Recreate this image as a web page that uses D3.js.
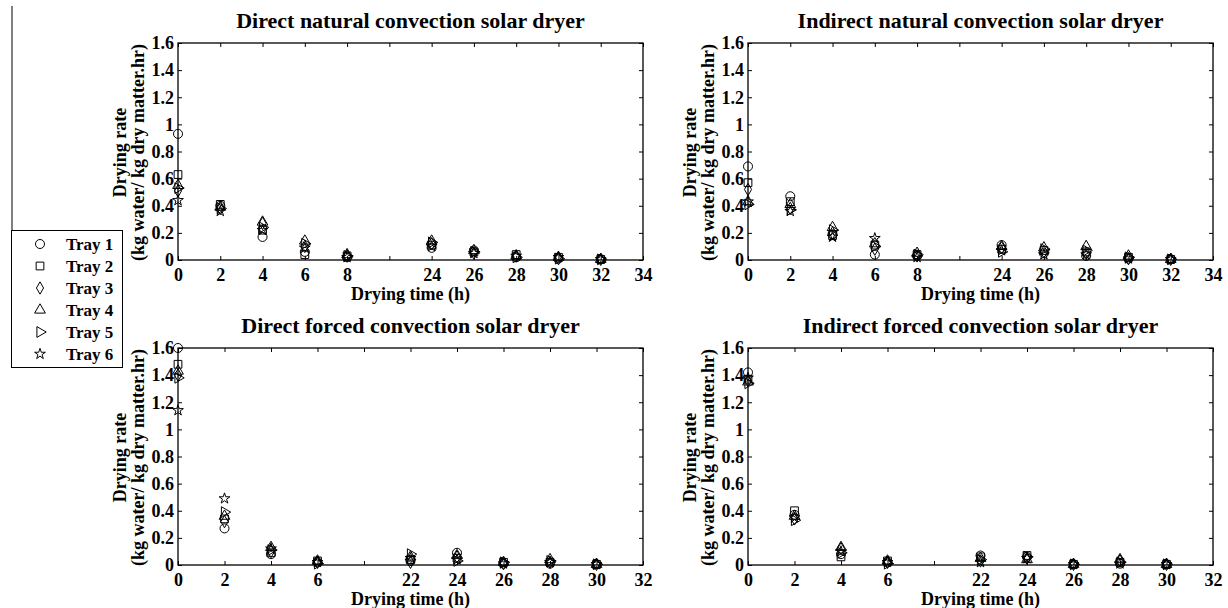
<!DOCTYPE html>
<html>
<head>
<meta charset="utf-8">
<script src="https://cdn.jsdelivr.net/npm/d3@7"></script>
<style>
  body { margin: 0; background: #fff; }
  svg text { font-family: "Liberation Serif", "Times New Roman", serif; font-weight: bold; fill: #000; }
</style>
</head>
<body>
<div id="chart"></div>
<script>
// tick categories (the blank one is the break between day 1 and day 2)
const naturalTicks = ["0", "2", "4", "6", "8", "", "24", "26", "28", "30", "32", "34"];
const forcedTicks = ["0", "2", "4", "6", "", "22", "24", "26", "28", "30", "32"];
const naturalTimes = ["0", "2", "4", "6", "8", "24", "26", "28", "30", "32"];
const forcedTimes = ["0", "2", "4", "6", "22", "24", "26", "28", "30"];
const yTicks = [0, 0.2, 0.4, 0.6, 0.8, 1, 1.2, 1.4, 1.6];
const trays = ["Tray 1", "Tray 2", "Tray 3", "Tray 4", "Tray 5", "Tray 6"];

// Direct natural convection solar dryer
const directNatural = [
  [0.93, 0.40, 0.17, 0.06, 0.02, 0.09, 0.07, 0.02, 0.01, 0.005],
  [0.63, 0.41, 0.22, 0.04, 0.03, 0.11, 0.06, 0.04, 0.02, 0.005],
  [0.51, 0.38, 0.27, 0.10, 0.03, 0.12, 0.05, 0.03, 0.01, 0.005],
  [0.55, 0.39, 0.28, 0.14, 0.04, 0.14, 0.07, 0.03, 0.02, 0.005],
  [0.53, 0.38, 0.24, 0.12, 0.03, 0.13, 0.06, 0.02, 0.01, 0.005],
  [0.44, 0.36, 0.22, 0.09, 0.02, 0.10, 0.05, 0.03, 0.02, 0.005]
];
// Indirect natural convection solar dryer
const indirectNatural = [
  [0.69, 0.47, 0.19, 0.04, 0.03, 0.11, 0.05, 0.03, 0.01, 0.005],
  [0.57, 0.43, 0.18, 0.11, 0.04, 0.08, 0.07, 0.06, 0.02, 0.005],
  [0.52, 0.38, 0.20, 0.08, 0.03, 0.09, 0.06, 0.05, 0.01, 0.005],
  [0.43, 0.41, 0.24, 0.12, 0.05, 0.10, 0.09, 0.10, 0.03, 0.005],
  [0.41, 0.37, 0.22, 0.10, 0.04, 0.06, 0.08, 0.07, 0.02, 0.005],
  [0.43, 0.36, 0.17, 0.16, 0.02, 0.07, 0.04, 0.04, 0.01, 0.005]
];
// Direct forced convection solar dryer
const directForced = [
  [1.60, 0.27, 0.08, 0.02, 0.03, 0.09, 0.01, 0.01, 0.005],
  [1.48, 0.34, 0.09, 0.03, 0.04, 0.05, 0.02, 0.02, 0.005],
  [1.40, 0.32, 0.10, 0.02, 0.02, 0.06, 0.01, 0.02, 0.005],
  [1.43, 0.36, 0.13, 0.03, 0.06, 0.07, 0.02, 0.04, 0.005],
  [1.38, 0.39, 0.11, 0.01, 0.08, 0.03, 0.02, 0.03, 0.005],
  [1.14, 0.49, 0.12, 0.02, 0.05, 0.04, 0.01, 0.02, 0.005]
];
// Indirect forced convection solar dryer
const indirectForced = [
  [1.42, 0.37, 0.08, 0.02, 0.07, 0.06, 0.005, 0.01, 0.005],
  [1.37, 0.40, 0.06, 0.03, 0.06, 0.07, 0.005, 0.02, 0.005],
  [1.36, 0.34, 0.12, 0.02, 0.03, 0.05, 0.005, 0.03, 0.005],
  [1.35, 0.36, 0.13, 0.03, 0.05, 0.04, 0.005, 0.04, 0.005],
  [1.34, 0.33, 0.09, 0.01, 0.04, 0.06, 0.005, 0.02, 0.005],
  [1.38, 0.35, 0.10, 0.02, 0.02, 0.05, 0.005, 0.01, 0.005]
];

const panels = [
  { title: "Direct natural convection solar dryer", ticks: naturalTicks, times: naturalTimes, values: directNatural, left: 178, top: 43 },
  { title: "Indirect natural convection solar dryer", ticks: naturalTicks, times: naturalTimes, values: indirectNatural, left: 748, top: 43 },
  { title: "Direct forced convection solar dryer", ticks: forcedTicks, times: forcedTimes, values: directForced, left: 178, top: 348 },
  { title: "Indirect forced convection solar dryer", ticks: forcedTicks, times: forcedTimes, values: indirectForced, left: 748, top: 348 }
];

const W = 1228, H = 608;
const plotW = 465, plotH = 217;

const svg = d3.select("#chart").append("svg")
  .attr("width", W)
  .attr("height", H);

// marker shapes, one per tray
const shapes = [
  { type: d3.symbolCircle, size: 64, rot: 0 },
  { type: d3.symbolSquare, size: 60, rot: 0 },
  { type: d3.symbolDiamond, size: 44, rot: 0 },
  { type: d3.symbolTriangle, size: 50, rot: 0 },
  { type: d3.symbolTriangle, size: 50, rot: 90 },
  { type: d3.symbolStar, size: 36, rot: 0 }
];

function drawMarker(g, i, x, y) {
  g.append("path")
    .attr("d", d3.symbol().type(shapes[i].type).size(shapes[i].size)())
    .attr("transform", `translate(${x},${y}) rotate(${shapes[i].rot})`)
    .attr("fill", "none")
    .attr("stroke", "#000")
    .attr("stroke-width", 1);
}

panels.forEach(p => {
  const g = svg.append("g").attr("transform", `translate(${p.left},${p.top})`);

  const x = d3.scalePoint().domain(p.ticks.map((d, i) => i)).range([0, plotW]);
  const y = d3.scaleLinear().domain([0, 1.6]).range([plotH, 0]);
  const xi = t => x(p.ticks.indexOf(t));

  // title
  g.append("text")
    .attr("x", plotW / 2)
    .attr("y", -15)
    .attr("text-anchor", "middle")
    .style("font-size", "22px")
    .text(p.title);

  // axes, ticks pointing inward like matlab
  const fmt = i => p.ticks[i];
  g.append("g").attr("transform", `translate(0,${plotH})`)
    .call(d3.axisBottom(x).tickSize(-4).tickPadding(8).tickFormat(fmt))
    .call(a => a.select(".domain").remove());
  g.append("g")
    .call(d3.axisTop(x).tickSize(-4).tickFormat(""))
    .call(a => a.select(".domain").remove());
  g.append("g")
    .call(d3.axisLeft(y).tickValues(yTicks).tickSize(-4).tickPadding(4).tickFormat(d3.format("~g")))
    .call(a => a.select(".domain").remove());
  g.append("g").attr("transform", `translate(${plotW},0)`)
    .call(d3.axisRight(y).tickValues(yTicks).tickSize(-4).tickFormat(""))
    .call(a => a.select(".domain").remove());

  g.selectAll(".tick text").style("font-size", "18px").style("font-family", "Liberation Serif, serif").style("font-weight", "bold");
  g.selectAll(".tick line").attr("stroke", "#000");

  g.append("rect")
    .attr("width", plotW)
    .attr("height", plotH)
    .attr("fill", "none")
    .attr("stroke", "#000")
    .attr("stroke-width", 1.3);

  // axis titles
  g.append("text")
    .attr("x", plotW / 2)
    .attr("y", plotH + 40)
    .attr("text-anchor", "middle")
    .style("font-size", "18px")
    .text("Drying time (h)");

  const yl = g.append("text")
    .attr("transform", `translate(-52,${plotH / 2 + 1}) rotate(-90)`)
    .attr("text-anchor", "middle")
    .style("font-size", "18px");
  yl.append("tspan").attr("x", 0).attr("dy", 0).text("Drying rate");
  yl.append("tspan").attr("x", 0).attr("dy", 18).text("(kg water/ kg dry matter.hr)");

  // points
  p.values.forEach((series, i) => {
    series.forEach((v, j) => drawMarker(g, i, xi(p.times[j]), y(v)));
  });
});

// legend
svg.append("line")
  .attr("x1", 12).attr("x2", 12)
  .attr("y1", 6).attr("y2", 230)
  .attr("stroke", "#000");

const lg = svg.append("g");
lg.append("rect")
  .attr("x", 11.5).attr("y", 230.5)
  .attr("width", 111).attr("height", 137)
  .attr("fill", "#fff")
  .attr("stroke", "#000");

trays.forEach((t, i) => {
  const yy = 244 + i * 22;
  drawMarker(lg, i, 40, yy);
  lg.append("text")
    .attr("x", 66)
    .attr("y", yy + 6)
    .style("font-size", "17px")
    .text(t);
});
</script>
</body>
</html>
